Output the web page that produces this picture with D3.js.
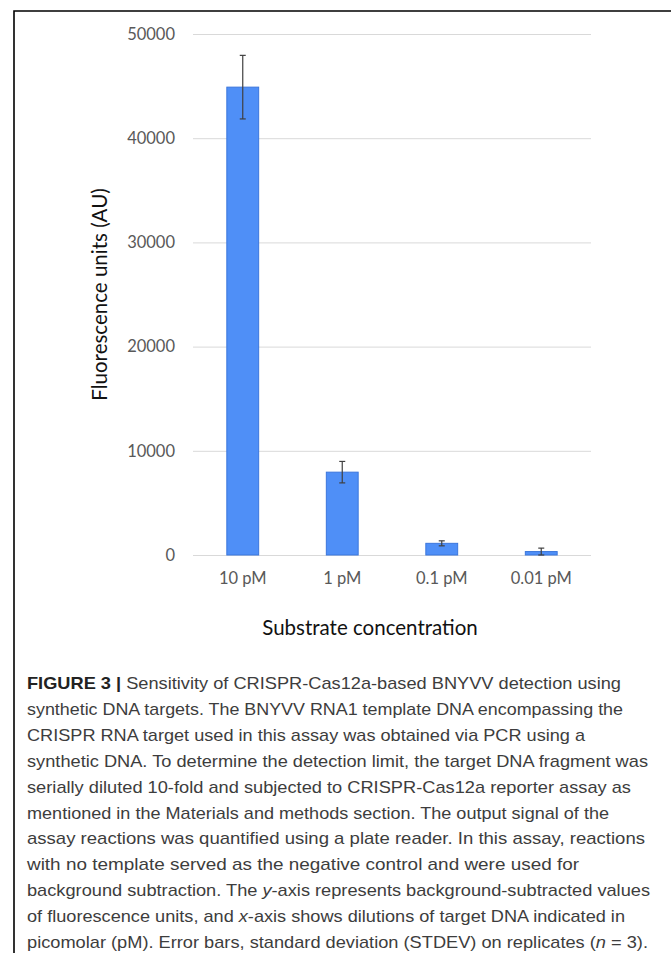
<!DOCTYPE html>
<html>
<head>
<meta charset="utf-8">
<script src="https://cdnjs.cloudflare.com/ajax/libs/d3/7.8.5/d3.min.js"></script>
<style>
  html, body { margin: 0; padding: 0; background: #fff; }
</style>
</head>
<body>
<div id="chart"></div>
<script>
// data
const categories = ['10 pM', '1 pM', '0.1 pM', '0.01 pM'];
const means = [44900, 7950, 1120, 330];
const stdevs = [3050, 1030, 240, 330];
const yTicks = [0, 10000, 20000, 30000, 40000, 50000];

const captionLines = [
    'Sensitivity of CRISPR-Cas12a-based BNYVV detection using',
    'synthetic DNA targets. The BNYVV RNA1 template DNA encompassing the',
    'CRISPR RNA target used in this assay was obtained via PCR using a',
    'synthetic DNA. To determine the detection limit, the target DNA fragment was',
    'serially diluted 10-fold and subjected to CRISPR-Cas12a reporter assay as',
    'mentioned in the Materials and methods section. The output signal of the',
    'assay reactions was quantified using a plate reader. In this assay, reactions',
    'with no template served as the negative control and were used for',
    'background subtraction. The |y|-axis represents background-subtracted values',
    'of fluorescence units, and |x|-axis shows dilutions of target DNA indicated in',
    'picomolar (pM). Error bars, standard deviation (STDEV) on replicates (|n| = 3).'
];
// right end of each caption line
const captionEnds = [621, 623, 585, 648, 631, 609, 645, 579, 650, 625, 648];

const W = 671, H = 953;
const svg = d3.select('#chart')
    .append('svg')
    .attr('width', W)
    .attr('height', H);

// frame (open at right & bottom)
svg.append('path')
    .attr('d', `M14,${H} L14,11 L${W},11`)
    .attr('fill', 'none')
    .attr('stroke', '#000')
    .attr('stroke-width', 1.6);

const margin = {top: 34, left: 193, right: 80, bottom: 398};
const graphWidth = 591 - margin.left;
const graphHeight = 555 - margin.top;
const graph = svg.append('g')
    .attr('transform', `translate(${margin.left}, ${margin.top})`);

const x = d3.scaleBand()
    .domain(categories)
    .range([0, graphWidth])
    .paddingInner(0.68)
    .paddingOuter(0.34);
const y = d3.scaleLinear()
    .domain([0, 50000])
    .range([graphHeight, 0]);

// gridlines + y labels
const yAxis = d3.axisLeft(y)
    .tickValues(yTicks)
    .tickSize(-graphWidth)
    .tickPadding(18)
    .tickFormat(d => d);
const yAxisGroup = graph.append('g').call(yAxis);
yAxisGroup.select('.domain').remove();
yAxisGroup.selectAll('.tick line')
    .attr('stroke', '#d9d9d9')
    .attr('stroke-width', 1);
yAxisGroup.selectAll('.tick text')
    .attr('font-family', 'Lato, "Open Sans", sans-serif')
    .attr('font-size', '16.5px')
    .attr('fill', '#595959');

// bars
graph.selectAll('rect.bar')
    .data(means)
    .enter()
    .append('rect')
    .attr('class', 'bar')
    .attr('x', (d, i) => x(categories[i]))
    .attr('width', x.bandwidth())
    .attr('y', d => y(d))
    .attr('height', d => graphHeight - y(d))
    .attr('fill', '#4f8ff7')
    .attr('stroke', '#3b76dc')
    .attr('stroke-width', 1);

// error bars
const err = graph.selectAll('g.err')
    .data(means)
    .enter()
    .append('g')
    .attr('class', 'err')
    .attr('stroke', '#404040')
    .attr('stroke-width', 1.2);
const cx = (i) => x(categories[i]) + x.bandwidth() / 2;
err.append('line')
    .attr('x1', (d, i) => cx(i)).attr('x2', (d, i) => cx(i))
    .attr('y1', (d, i) => y(d + stdevs[i]))
    .attr('y2', (d, i) => y(Math.max(0, d - stdevs[i])));
err.append('line')
    .attr('x1', (d, i) => cx(i) - 3).attr('x2', (d, i) => cx(i) + 3)
    .attr('y1', (d, i) => y(d + stdevs[i]))
    .attr('y2', (d, i) => y(d + stdevs[i]));
err.append('line')
    .attr('x1', (d, i) => cx(i) - 3).attr('x2', (d, i) => cx(i) + 3)
    .attr('y1', (d, i) => y(Math.max(0, d - stdevs[i])))
    .attr('y2', (d, i) => y(Math.max(0, d - stdevs[i])));

// x axis labels
const xAxis = d3.axisBottom(x).tickSize(0).tickPadding(17);
const xAxisGroup = graph.append('g')
    .attr('transform', `translate(0, ${graphHeight})`)
    .call(xAxis);
xAxisGroup.select('.domain').remove();
xAxisGroup.selectAll('.tick text')
    .attr('font-family', 'Lato, "Open Sans", sans-serif')
    .attr('font-size', '16.5px')
    .attr('fill', '#595959');

// axis titles
svg.append('text')
    .attr('x', 370)
    .attr('y', 635)
    .attr('text-anchor', 'middle')
    .attr('font-family', 'Lato, "Open Sans", sans-serif')
    .attr('font-size', '20.5px')
    .attr('fill', '#111')
    .text('Substrate concentration');
svg.append('text')
    .attr('transform', `translate(107, ${margin.top + graphHeight / 2}) rotate(-90)`)
    .attr('text-anchor', 'middle')
    .attr('font-family', 'Lato, "Open Sans", sans-serif')
    .attr('font-size', '20.5px')
    .attr('fill', '#111')
    .text('Fluorescence units (AU)');

// caption
const capX = 27, capY0 = 689, capStep = 25.9;
const cap = svg.append('g')
    .attr('font-family', '"Liberation Sans", Arial, sans-serif')
    .attr('font-size', '17px')
    .attr('fill', '#3d3d3d');
captionLines.forEach((line, i) => {
    const t = cap.append('text')
        .attr('x', capX)
        .attr('y', capY0 + i * capStep)
        .attr('textLength', captionEnds[i] - capX)
        .attr('lengthAdjust', 'spacingAndGlyphs');
    if (i === 0) {
        t.append('tspan')
            .attr('font-weight', 'bold')
            .attr('fill', '#222')
            .text('FIGURE 3 | ');
    }
    line.split('|').forEach((part, j) => {
        if (!part) return;
        t.append('tspan')
            .attr('font-style', j % 2 === 1 ? 'italic' : 'normal')
            .text(part);
    });
});
</script>
</body>
</html>
